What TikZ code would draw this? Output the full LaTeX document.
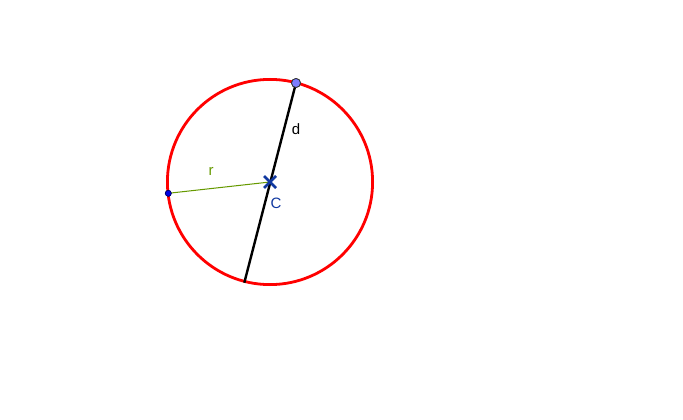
\documentclass[tikz,border=0pt]{standalone}
\usepackage{fontspec}
\setmainfont{Liberation Sans}
\usetikzlibrary{calc}
\begin{document}
\begin{tikzpicture}[x=1pt,y=-1pt,
  lbl/.style={font=\fontsize{15}{17}\selectfont, inner sep=0pt},
  ptbig/.style={circle, draw=black!80, line width=0.8pt, fill={rgb,255:red,125;green,125;blue,255}, minimum size=9pt, inner sep=0pt},
  ptsmall/.style={circle, draw={rgb,255:red,0;green,0;blue,100}, line width=0.6pt, fill={rgb,255:red,0;green,0;blue,230}, minimum size=6pt, inner sep=0pt}]
\definecolor{circred}{RGB}{255,0,0}
\definecolor{olivegreen}{RGB}{102,153,0}
\definecolor{cblue}{RGB}{16,56,160}
\useasboundingbox (0,0) rectangle (683,420);
\coordinate (C) at (270,182);
\coordinate (Q) at (244.3,282.7);
\draw[circred, line width=2.8pt] (C) circle (102.6);
\node[ptsmall] (R) at (168.3,193.3) {};
\draw[olivegreen, line width=1pt] (R.center) -- (C);
\node[ptsmall] at (R) {};
\node[ptbig] (P) at (296,83) {};
\draw[black, line width=2.4pt] (Q) -- (P.center);
\node[ptbig] at (P) {};
\draw[cblue, line width=2.5pt] ($(C)+(-6,-6)$) -- ($(C)+(6,6)$) ($(C)+(-6,6)$) -- ($(C)+(6,-6)$);
\node[lbl, text=olivegreen] (lr) at (211,171) {r};
\node[lbl] (ld) at (296,129) {d};
\node[lbl, text=cblue] (lc) at (276,203) {C};
\end{tikzpicture}
\end{document}
